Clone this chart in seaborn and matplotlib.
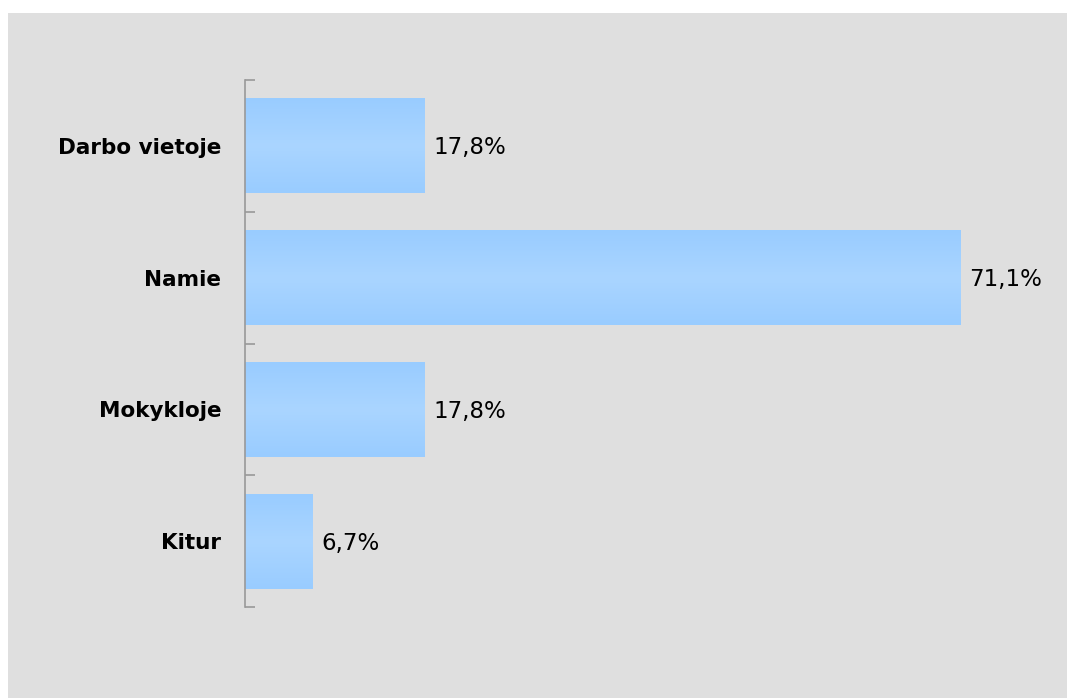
import numpy as np
import pandas as pd
import matplotlib
matplotlib.use("Agg")
import matplotlib.pyplot as plt
from matplotlib.patches import Rectangle
from matplotlib.colors import LinearSegmentedColormap
import seaborn as sns

# Data
categories = ["Darbo vietoje", "Namie", "Mokykloje", "Kitur"]
values = [17.8, 71.1, 17.8, 6.7]

BG = "#DFDFDF"
BAR_EDGE = "#99CCFF"
BAR_MID = "#AAD5FF"
AXIS_GREY = "#999999"

sns.set_theme(style="white")
plt.rcParams["font.family"] = ["DejaVu Sans"]

df = pd.DataFrame({"category": categories, "value": values})

W, H = 1067, 698
fig = plt.figure(figsize=(W / 100, H / 100), dpi=100)
fig.patch.set_facecolor("white")
# grey panel, leaving a thin white strip on top and left
fig.patches.append(Rectangle((8 / W, 0), 1 - 8 / W, (H - 13) / H,
                             transform=fig.transFigure, facecolor=BG,
                             edgecolor="none", zorder=-10))

ax = fig.add_axes([245 / W, (H - 607) / H, 805 / W, 527 / H])
ax.patch.set_visible(False)

sns.barplot(data=df, x="value", y="category", orient="h", color=BAR_EDGE,
            width=0.72, saturation=1, ax=ax)

# vertical gradient on each bar (lighter in the middle)
cmap = LinearSegmentedColormap.from_list("bar", [BAR_EDGE, BAR_MID, BAR_EDGE])
grad = np.linspace(0, 1, 256).reshape(-1, 1)
for p in ax.patches:
    x0, y0 = p.get_x(), p.get_y()
    w, h = p.get_width(), p.get_height()
    im = ax.imshow(grad, cmap=cmap, aspect="auto",
                   extent=(x0, x0 + w, y0 + h, y0), zorder=2)
    im.set_clip_path(p)
    p.set_edgecolor("none")
ax.set_xlim(0, 80)
ax.set_ylim(len(categories) - 0.5, -0.5)

# value labels
for i, v in enumerate(values):
    txt = f"{v:.1f}".replace(".", ",") + "%"
    ax.annotate(txt, (v, i), xytext=(9, -2), textcoords="offset pixels",
                ha="left", va="center", fontsize=16.5, color="black")

for s in ["top", "right", "bottom"]:
    ax.spines[s].set_visible(False)
ax.spines["left"].set_color(AXIS_GREY)
ax.spines["left"].set_linewidth(1.2)

ax.set_xticks([])
ax.set_xlabel("")
ax.set_ylabel("")
ax.set_yticks(range(len(categories)))
ax.set_yticklabels(categories, fontsize=15.5, fontweight="bold", color="black")
ax.set_yticks(np.arange(-0.5, len(categories)), minor=True)
ax.tick_params(axis="y", which="both", left=True)
ax.tick_params(axis="y", which="major", length=0, pad=17)
ax.tick_params(axis="y", which="minor", direction="in", length=7,
               width=1.2, color=AXIS_GREY)

fig.savefig("out.png", dpi=100, facecolor=fig.get_facecolor())
